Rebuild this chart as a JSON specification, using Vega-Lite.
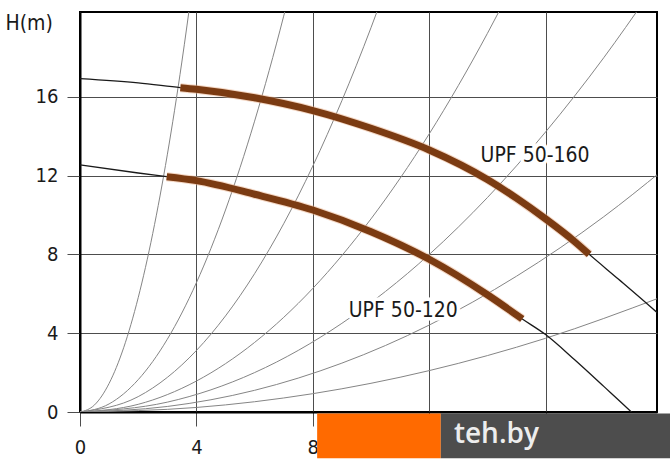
{
  "$schema": "https://vega.github.io/schema/vega-lite/v6.json",
  "width": 577,
  "height": 400,
  "autosize": {"type": "none"},
  "padding": {"left": 80, "top": 12, "right": 13, "bottom": 59},
  "background": "white",
  "config": {
    "view": {"stroke": "#000000", "strokeWidth": 2},
    "font": "DejaVu Sans Condensed, DejaVu Sans",
    "axis": {
      "domainColor": "#000000",
      "domainWidth": 2,
      "gridColor": "#4d4d4d",
      "gridWidth": 1,
      "gridOpacity": 1,
      "tickColor": "#4d4d4d",
      "tickWidth": 1,
      "labelFlush": false,
      "labelColor": "#1a1a1a",
      "labelFontSize": 20,
      "labelFont": "DejaVu Sans Condensed, DejaVu Sans",
      "titleFont": "DejaVu Sans Condensed, DejaVu Sans"
    }
  },
  "datasets": {
    "system": [
      {"curve": "c1", "Q": 0, "H": 0}, {"curve": "c1", "Q": 0.5, "H": 0.36}, {"curve": "c1", "Q": 1, "H": 1.45}, {"curve": "c1", "Q": 1.5, "H": 3.26}, {"curve": "c1", "Q": 2, "H": 5.8}, {"curve": "c1", "Q": 2.5, "H": 9.06}, {"curve": "c1", "Q": 3, "H": 13.05}, {"curve": "c1", "Q": 3.5, "H": 17.76}, {"curve": "c1", "Q": 3.85, "H": 21.49},
      {"curve": "c2", "Q": 0, "H": 0}, {"curve": "c2", "Q": 1, "H": 0.41}, {"curve": "c2", "Q": 2, "H": 1.64}, {"curve": "c2", "Q": 3, "H": 3.69}, {"curve": "c2", "Q": 4, "H": 6.56}, {"curve": "c2", "Q": 5, "H": 10.25}, {"curve": "c2", "Q": 6, "H": 14.76}, {"curve": "c2", "Q": 7, "H": 20.09}, {"curve": "c2", "Q": 7.3, "H": 21.85},
      {"curve": "c3", "Q": 0, "H": 0}, {"curve": "c3", "Q": 2, "H": 0.78}, {"curve": "c3", "Q": 4, "H": 3.12}, {"curve": "c3", "Q": 6, "H": 7.02}, {"curve": "c3", "Q": 8, "H": 12.48}, {"curve": "c3", "Q": 9, "H": 15.8}, {"curve": "c3", "Q": 10, "H": 19.5}, {"curve": "c3", "Q": 10.5, "H": 21.5},
      {"curve": "c4", "Q": 0, "H": 0}, {"curve": "c4", "Q": 2, "H": 0.39}, {"curve": "c4", "Q": 4, "H": 1.57}, {"curve": "c4", "Q": 6, "H": 3.53}, {"curve": "c4", "Q": 8, "H": 6.27}, {"curve": "c4", "Q": 10, "H": 9.8}, {"curve": "c4", "Q": 12, "H": 14.11}, {"curve": "c4", "Q": 14, "H": 19.21}, {"curve": "c4", "Q": 14.8, "H": 21.47},
      {"curve": "c5", "Q": 0, "H": 0}, {"curve": "c5", "Q": 3, "H": 0.5}, {"curve": "c5", "Q": 6, "H": 2.0}, {"curve": "c5", "Q": 9, "H": 4.5}, {"curve": "c5", "Q": 12, "H": 7.99}, {"curve": "c5", "Q": 14, "H": 10.88}, {"curve": "c5", "Q": 16, "H": 14.21}, {"curve": "c5", "Q": 18, "H": 17.98}, {"curve": "c5", "Q": 19.5, "H": 21.1},
      {"curve": "c6", "Q": 0, "H": 0}, {"curve": "c6", "Q": 3, "H": 0.28}, {"curve": "c6", "Q": 6, "H": 1.1}, {"curve": "c6", "Q": 9, "H": 2.48}, {"curve": "c6", "Q": 12, "H": 4.41}, {"curve": "c6", "Q": 15, "H": 6.89}, {"curve": "c6", "Q": 18, "H": 9.91}, {"curve": "c6", "Q": 20, "H": 12.24},
      {"curve": "c7", "Q": 0, "H": 0}, {"curve": "c7", "Q": 4, "H": 0.23}, {"curve": "c7", "Q": 8, "H": 0.93}, {"curve": "c7", "Q": 12, "H": 2.1}, {"curve": "c7", "Q": 16, "H": 3.74}, {"curve": "c7", "Q": 20, "H": 5.84}
    ],
    "pump": [
      {"pump": "UPF 50-160", "Q": 0, "H": 16.92}, {"pump": "UPF 50-160", "Q": 2, "H": 16.7}, {"pump": "UPF 50-160", "Q": 3.45, "H": 16.46}, {"pump": "UPF 50-160", "Q": 4, "H": 16.38}, {"pump": "UPF 50-160", "Q": 6, "H": 15.95}, {"pump": "UPF 50-160", "Q": 8, "H": 15.3}, {"pump": "UPF 50-160", "Q": 10, "H": 14.4}, {"pump": "UPF 50-160", "Q": 12, "H": 13.3}, {"pump": "UPF 50-160", "Q": 14, "H": 11.8}, {"pump": "UPF 50-160", "Q": 15, "H": 10.85}, {"pump": "UPF 50-160", "Q": 16, "H": 9.8}, {"pump": "UPF 50-160", "Q": 17, "H": 8.65}, {"pump": "UPF 50-160", "Q": 17.5, "H": 8.0}, {"pump": "UPF 50-160", "Q": 18.5, "H": 6.75}, {"pump": "UPF 50-160", "Q": 19.83, "H": 5.05}, {"pump": "UPF 50-160", "Q": 20.5, "H": 4.15},
      {"pump": "UPF 50-120", "Q": 0, "H": 12.54}, {"pump": "UPF 50-120", "Q": 2, "H": 12.13}, {"pump": "UPF 50-120", "Q": 2.98, "H": 11.94}, {"pump": "UPF 50-120", "Q": 4, "H": 11.74}, {"pump": "UPF 50-120", "Q": 6, "H": 11.05}, {"pump": "UPF 50-120", "Q": 8, "H": 10.25}, {"pump": "UPF 50-120", "Q": 10, "H": 9.15}, {"pump": "UPF 50-120", "Q": 12, "H": 7.75}, {"pump": "UPF 50-120", "Q": 14, "H": 5.95}, {"pump": "UPF 50-120", "Q": 15.2, "H": 4.72}, {"pump": "UPF 50-120", "Q": 16, "H": 3.93}, {"pump": "UPF 50-120", "Q": 17, "H": 2.65}, {"pump": "UPF 50-120", "Q": 18, "H": 1.3}, {"pump": "UPF 50-120", "Q": 18.95, "H": 0}, {"pump": "UPF 50-120", "Q": 19.3, "H": -0.5}
    ],
    "duty": [
      {"pump": "UPF 50-160", "Q": 3.45, "H": 16.46}, {"pump": "UPF 50-160", "Q": 4, "H": 16.38}, {"pump": "UPF 50-160", "Q": 6, "H": 15.95}, {"pump": "UPF 50-160", "Q": 8, "H": 15.3}, {"pump": "UPF 50-160", "Q": 10, "H": 14.4}, {"pump": "UPF 50-160", "Q": 12, "H": 13.3}, {"pump": "UPF 50-160", "Q": 14, "H": 11.8}, {"pump": "UPF 50-160", "Q": 15, "H": 10.85}, {"pump": "UPF 50-160", "Q": 16, "H": 9.8}, {"pump": "UPF 50-160", "Q": 17, "H": 8.65}, {"pump": "UPF 50-160", "Q": 17.5, "H": 8.0},
      {"pump": "UPF 50-120", "Q": 2.98, "H": 11.94}, {"pump": "UPF 50-120", "Q": 4, "H": 11.74}, {"pump": "UPF 50-120", "Q": 6, "H": 11.05}, {"pump": "UPF 50-120", "Q": 8, "H": 10.25}, {"pump": "UPF 50-120", "Q": 10, "H": 9.15}, {"pump": "UPF 50-120", "Q": 12, "H": 7.75}, {"pump": "UPF 50-120", "Q": 14, "H": 5.95}, {"pump": "UPF 50-120", "Q": 15.2, "H": 4.72}
    ],
    "labels": [
      {"label": "UPF 50-160", "Q": 15.64, "H": 13.05},
      {"label": "UPF 50-120", "Q": 11.11, "H": 5.18}
    ]
  },
  "layer": [
    {
      "data": {"name": "system"},
      "mark": {"type": "line", "color": "#858585", "strokeWidth": 1, "interpolate": "monotone", "clip": true},
      "encoding": {
        "x": {
          "field": "Q", "type": "quantitative",
          "scale": {"domain": [0, 19.83], "nice": false, "zero": false},
          "axis": {"values": [0, 4, 8, 12, 16], "grid": true, "tickSize": 14, "labelPadding": 11, "title": null,
                   "labelExpr": "datum.value <= 8 ? datum.label : ''"}
        },
        "y": {
          "field": "H", "type": "quantitative",
          "scale": {"domain": [0, 20.3], "nice": false, "zero": false},
          "axis": {
            "values": [0, 4, 8, 12, 16], "grid": true, "tickSize": 13, "labelPadding": 9,
            "title": "H(m)", "titleAngle": 0, "titleX": -75, "titleY": 17,
            "titleAlign": "left", "titleBaseline": "alphabetic",
            "titleFontSize": 21, "titleFontWeight": "normal", "titleColor": "#1a1a1a"
          }
        },
        "detail": {"field": "curve"}
      }
    },
    {
      "data": {"name": "pump"},
      "mark": {"type": "line", "color": "#1a1a1a", "strokeWidth": 1.3, "interpolate": "monotone", "clip": true},
      "encoding": {
        "x": {"field": "Q", "type": "quantitative"},
        "y": {"field": "H", "type": "quantitative"},
        "detail": {"field": "pump"}
      }
    },
    {
      "data": {"name": "duty"},
      "mark": {"type": "line", "color": "#eab08a", "opacity": 0.5, "strokeWidth": 9, "interpolate": "monotone", "strokeCap": "butt"},
      "encoding": {
        "x": {"field": "Q", "type": "quantitative"},
        "y": {"field": "H", "type": "quantitative"},
        "detail": {"field": "pump"}
      }
    },
    {
      "data": {"name": "duty"},
      "mark": {"type": "line", "color": "#7b3b12", "strokeWidth": 7, "interpolate": "monotone", "strokeCap": "butt"},
      "encoding": {
        "x": {"field": "Q", "type": "quantitative"},
        "y": {"field": "H", "type": "quantitative"},
        "detail": {"field": "pump"}
      }
    },
    {
      "data": {"name": "labels"},
      "mark": {"type": "text", "fontSize": 21, "stroke": "white", "strokeWidth": 7, "align": "center", "baseline": "middle", "dy": 1},
      "encoding": {
        "x": {"field": "Q", "type": "quantitative"},
        "y": {"field": "H", "type": "quantitative"},
        "text": {"field": "label"}
      }
    },
    {
      "data": {"name": "labels"},
      "mark": {"type": "text", "fontSize": 21, "color": "#1a1a1a", "align": "center", "baseline": "middle", "dy": 1},
      "encoding": {
        "x": {"field": "Q", "type": "quantitative"},
        "y": {"field": "H", "type": "quantitative"},
        "text": {"field": "label"}
      }
    },
    {
      "data": {"values": [{}]},
      "mark": {"type": "rect", "color": "#ff6a00", "clip": false},
      "encoding": {
        "x": {"datum": 8.15, "type": "quantitative"},
        "x2": {"datum": 12.4},
        "y": {"datum": -0.08, "type": "quantitative"},
        "y2": {"datum": -2.35}
      }
    },
    {
      "data": {"values": [{}]},
      "mark": {"type": "rect", "color": "#4d4d4d", "clip": false},
      "encoding": {
        "x": {"datum": 12.4, "type": "quantitative"},
        "x2": {"datum": 20.3},
        "y": {"datum": -0.08, "type": "quantitative"},
        "y2": {"datum": -2.35}
      }
    },
    {
      "data": {"values": [{"t": "teh.by"}]},
      "mark": {"type": "text", "font": "Open Sans", "fontWeight": 600, "fontSize": 28, "color": "#ededed", "align": "left", "baseline": "middle", "clip": false},
      "encoding": {
        "x": {"datum": 12.85, "type": "quantitative"},
        "y": {"datum": -1.15, "type": "quantitative"},
        "text": {"field": "t"}
      }
    }
  ]
}
